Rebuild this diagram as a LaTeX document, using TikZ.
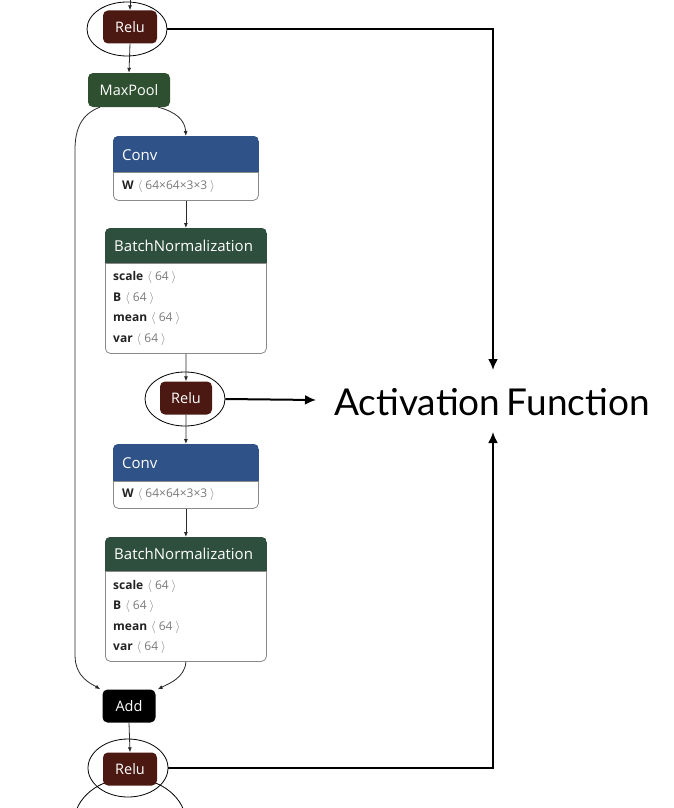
\documentclass[tikz,border=0pt]{standalone}
\usepackage{fontspec}
\setmainfont{Open Sans}
\newfontfamily\bigfont{Lato}
\usetikzlibrary{shapes.geometric,arrows.meta}
\definecolor{reluc}{HTML}{4B1912}
\definecolor{poolc}{HTML}{2F5030}
\definecolor{convc}{HTML}{2F5288}
\definecolor{bnc}{HTML}{2F4F3E}
\definecolor{edgec}{HTML}{2A2A2A}
\definecolor{boxline}{HTML}{8A8A8A}
\definecolor{dimc}{HTML}{7A7A7A}
\definecolor{attrc}{HTML}{222222}
\newcommand\dimv[1]{\hspace{4pt}\textcolor{dimc}{$\langle$\hspace{3pt}#1\hspace{3pt}$\rangle$}}
\begin{document}
\begin{tikzpicture}[x=1pt,y=-1pt,
 opnode/.style={rounded corners=5pt, text=white, font=\fontsize{14.5}{16}\selectfont, minimum height=33pt, inner sep=0pt},
 ring/.style={ellipse, draw, line width=0.8pt, minimum width=80pt, minimum height=54pt, inner sep=0pt},
 edge/.style={draw=edgec, line width=0.8pt, -{Latex[length=5pt,width=4pt]}},
 big/.style={line width=2pt, -{Latex[length=11pt,width=10pt]}},
 boxnode/.style={draw=boxline, line width=0.8pt, rounded corners=5pt, anchor=north west, inner sep=0pt},
 hdr/.style={anchor=west, text=white, font=\fontsize{15}{17}\selectfont, inner sep=0pt},
 attr/.style={anchor=west, text=attrc, font=\fontsize{12}{14}\selectfont, inner sep=0pt},
]
\fill[white] (0,0) rectangle (674,808);
\useasboundingbox (0,0) rectangle (674,808);

% partial ring at the bottom
\begin{scope}
 \clip (0,0) rectangle (674,808);
 \draw[line width=0.8pt] (130,823) ellipse [x radius=56pt, y radius=45pt];
\end{scope}

% ---------- op nodes ----------
\node[opnode, fill=reluc, minimum width=54pt] (relu1) at (130,27) {Relu};
\node[ring] (ring1) at (127,29) {};
\node[opnode, fill=poolc, minimum width=82pt, minimum height=34pt] (pool) at (129,90) {MaxPool};

\node[opnode, fill=reluc, minimum width=52pt] (relu2) at (186,398) {Relu};
\node[ring] (ring2) at (185,399) {};

\node[opnode, fill=black, minimum width=53pt] (add) at (129,706) {Add};
\node[opnode, fill=reluc, minimum width=54pt] (relu3) at (130,769) {Relu};
\node[ring, minimum width=80pt, minimum height=58pt] (ring3) at (128,768) {};

% ---------- Conv 1 ----------
\node[boxnode, minimum width=145pt, minimum height=64pt] (conv1) at (113,136) {};
\begin{scope}
 \clip[rounded corners=5pt] (conv1.north west) rectangle (conv1.south east);
 \fill[convc] (conv1.north west) rectangle (259,172);
\end{scope}
\draw[boxline, line width=0.8pt] (113,172) -- (258,172);
\node[hdr] (conv1h) at (122,155) {Conv};
\node[attr] (conv1w) at (122,186) {\textbf{W}\dimv{64×64×3×3}};

% ---------- BN 1 ----------
\node[boxnode, minimum width=161pt, minimum height=125pt] (bn1) at (105,228) {};
\begin{scope}
 \clip[rounded corners=5pt] (bn1.north west) rectangle (bn1.south east);
 \fill[bnc] (bn1.north west) rectangle (267,263);
\end{scope}
\draw[boxline, line width=0.8pt] (105,263) -- (266,263);
\node[hdr] (bn1h) at (114,246) {BatchNormalization};
\node[attr] (bn1a) at (113,277) {\textbf{scale}\dimv{64}};
\node[attr] (bn1b) at (113,298) {\textbf{B}\dimv{64}};
\node[attr] (bn1c) at (113,318) {\textbf{mean}\dimv{64}};
\node[attr] (bn1d) at (113,339) {\textbf{var}\dimv{64}};

% ---------- Conv 2 ----------
\node[boxnode, minimum width=145pt, minimum height=64pt] (conv2) at (113,444) {};
\begin{scope}
 \clip[rounded corners=5pt] (conv2.north west) rectangle (conv2.south east);
 \fill[convc] (conv2.north west) rectangle (259,481);
\end{scope}
\draw[boxline, line width=0.8pt] (113,481) -- (258,481);
\node[hdr] (conv2h) at (122,463) {Conv};
\node[attr] (conv2w) at (122,494) {\textbf{W}\dimv{64×64×3×3}};

% ---------- BN 2 ----------
\node[boxnode, minimum width=161pt, minimum height=124pt] (bn2) at (105,537) {};
\begin{scope}
 \clip[rounded corners=5pt] (bn2.north west) rectangle (bn2.south east);
 \fill[bnc] (bn2.north west) rectangle (267,571);
\end{scope}
\draw[boxline, line width=0.8pt] (105,571) -- (266,571);
\node[hdr] (bn2h) at (114,554) {BatchNormalization};
\node[attr] (bn2a) at (113,586) {\textbf{scale}\dimv{64}};
\node[attr] (bn2b) at (113,606) {\textbf{B}\dimv{64}};
\node[attr] (bn2c) at (113,627) {\textbf{mean}\dimv{64}};
\node[attr] (bn2d) at (113,647) {\textbf{var}\dimv{64}};

% ---------- graph edges ----------
\coordinate (topin) at (130,0);
\draw[edge] (topin) -- (relu1.north);
\draw[edge] (relu1.south) -- (pool.north);
\draw[edge] ([xshift=-12pt]pool.south east) .. controls (176,112) and (185,120) .. (conv1.north);
\draw[edge] ([xshift=12pt]pool.south west) .. controls (82,114) and (75,128) .. (75,150) -- (75,655) .. controls (75,678) and (92,684) .. ([xshift=-2pt]add.north west);
\draw[edge] (conv1.south) -- (bn1.north);
\draw[edge] (bn1.south) -- (relu2.north);
\draw[edge] (relu2.south) -- (conv2.north);
\draw[edge] (conv2.south) -- (bn2.north);
\draw[edge] (bn2.south) .. controls (185,678) and (168,684) .. ([xshift=2pt]add.north east);
\draw[edge] (add.south) -- (relu3.north);

% ---------- annotation ----------
\node[font=\bigfont\fontsize{37}{42}\selectfont, inner sep=0pt] (act) at (492,402) {Activation\hspace{-3pt} Function};
\coordinate (tipA) at (493,370);
\coordinate (tipB) at (316,400);
\coordinate (tipC) at (493,432);
\draw[big] (ring1.east) -| (tipA);
\draw[big] (ring2.east) -- (tipB);
\draw[big] (ring3.east) -| (tipC);
\end{tikzpicture}
\end{document}
